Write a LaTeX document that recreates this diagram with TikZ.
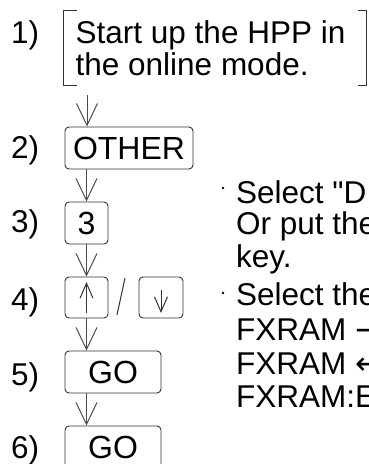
\documentclass[tikz,border=0pt]{standalone}
\usepackage{fontspec}
\setmainfont{Liberation Sans}[Ligatures=TeXOff]
\newfontfamily\symfont{DejaVu Sans}
\usetikzlibrary{arrows.meta}
\begin{document}
\begin{tikzpicture}[x=1pt,y=-1pt,
  txt/.style={anchor=base west, inner sep=0pt, font=\fontsize{31.5}{33}\selectfont},
  keybox/.style={draw=black!80, line width=0.9pt, rounded corners=4pt, inner sep=0pt, text height=22.5pt, text depth=0pt, font=\fontsize{32}{33}\selectfont},
  conn/.style={draw=black!70, line width=1pt, -{Straight Barb[length=22pt,width=21pt]}},
  keyarrow/.style={draw=black!80, line width=1pt, -{Straight Barb[length=15pt,width=13pt]}},
  bracket/.style={draw=black!80, line width=0.9pt},
]
\clip (0,0) rectangle (368,464);

% step labels
\node[txt] (l1) at (11,43) {1)};
\node[txt] (l2) at (11,158) {2)};
\node[txt] (l3) at (11,232) {3)};
\node[txt] (l4) at (11,310) {4)};
\node[txt] (l5) at (11,385) {5)};
\node[txt] (l6) at (11,458) {6)};

% step 1 bracketed text
\draw[bracket] (77,10) -- (63,10) -- (63,85) -- (77,85);
\draw[bracket] (358,10) -- (366,10) -- (366,85) -- (358,85);
\node[txt] (t1a) at (75.5,43) {Start up the HPP in};
\node[txt] (t1b) at (75.5,75) {the online mode.};

% key boxes
\node[keybox, minimum width=128pt, minimum height=42pt] (other) at (129,148) {OTHER};
\node[keybox, minimum width=43pt, minimum height=42pt] (three) at (86.5,223) {3};
\node[keybox, minimum width=43pt, minimum height=41pt] (up) at (86.5,297.5) {};
\node[keybox, minimum width=44pt, minimum height=41pt] (down) at (161,297.5) {};
\node[keybox, minimum width=96pt, minimum height=42pt] (go5) at (113,372) {GO};
\node[keybox, minimum width=96pt, minimum height=42pt] (go6) at (113,447) {GO};

% connectors
\coordinate (c1) at (87,95);
\draw[conn] (c1) -- (c1 |- other.north);
\draw[conn] (three.north |- other.south) -- (three.north);
\draw[conn] (three.south) -- (up.north);
\draw[conn] (up.south) -- (up.south |- go5.north);
\draw[conn] (up.south |- go5.south) -- (up.south |- go6.north);

% arrow glyphs in keys
\coordinate (upa) at (86.5,313);
\coordinate (upb) at (86.5,282);
\draw[keyarrow] (upa) -- (upb);
\coordinate (dna) at (161,290);
\coordinate (dnb) at (161,313);
\draw[keyarrow] (dna) -- (dnb);

% slash between keys
\coordinate (sla) at (117,315);
\coordinate (slb) at (125,278);
\draw[black!80, line width=1pt] (sla) -- (slb);

% notes
\fill[black] (223,188) circle (1.4pt);
\fill[black] (223,293) circle (1.4pt);
\node[txt] (r1) at (236,203) {Select "D};
\node[txt] (r2) at (236,234) {Or put the};
\node[txt] (r3) at (236,267) {key.};
\node[txt] (r4) at (236,305) {Select the};
\node[txt] (r5) at (236,340) {FXRAM {\symfont →}};
\node[txt] (r6) at (236,374) {FXRAM {\symfont ←}};
\node[txt] (r7) at (236,407) {FXRAM:E};
\end{tikzpicture}
\end{document}
